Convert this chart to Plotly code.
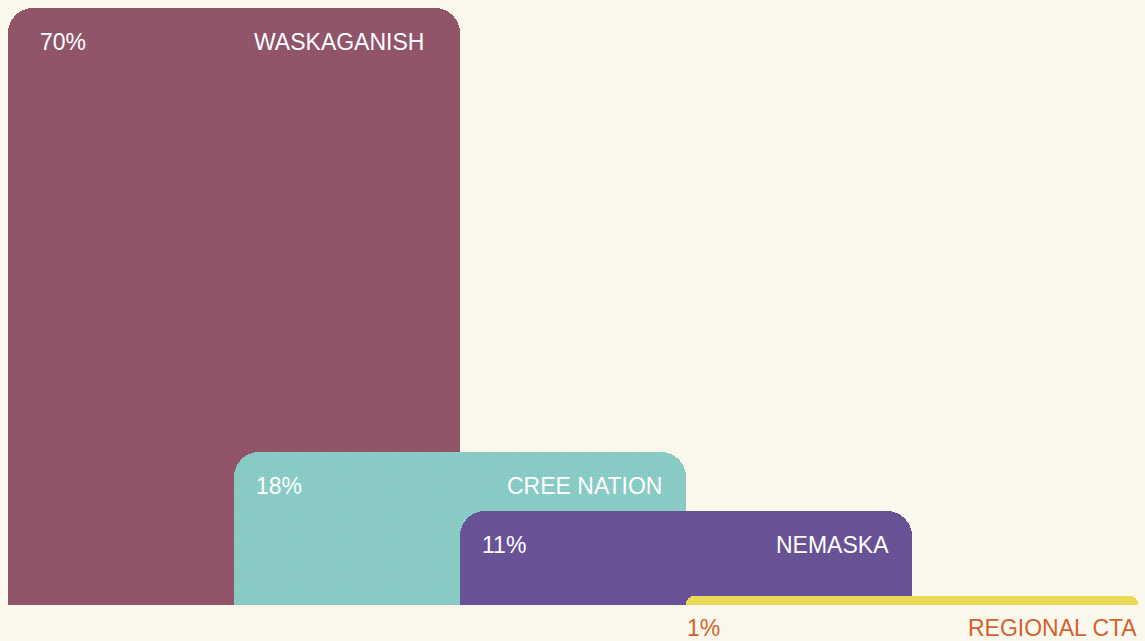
import plotly.graph_objects as go

categories = ["WASKAGANISH", "CREE NATION", "NEMASKA", "REGIONAL CTA"]
values = [70, 18, 11, 1]
labels = ["70%", "18%", "11%", "1%"]
colors = ["#93566B", "#8BCFC9", "#6A5499", "#F1DD57"]
text_colors = ["#FFFFFF", "#FFFFFF", "#FFFFFF", "#D4612E"]
positions = [0, 1, 2, 3]
left_inset = [30, 20, 20, -1]
right_inset = [-34, -22, -21, 1]

fig = go.Figure()
for i, (cat, v) in enumerate(zip(categories, values)):
    fig.add_trace(go.Bar(
        x=[positions[i]], y=[v], width=[2.0],
        marker=dict(color=colors[i], cornerradius=25, line=dict(width=0),
                    pattern=dict(shape=".", size=3, solidity=0.35,
                                 fgcolor="#000000", fgopacity=0.05,
                                 fillmode="overlay")),
        name=cat, hoverinfo="skip", showlegend=False,
    ))

annotations = []
for i, (cat, v) in enumerate(zip(categories, values)):
    inside = v > 5
    ys = -34 if inside else -23
    yv = v if inside else 0
    annotations.append(dict(x=positions[i] - 1, y=yv, xref="x", yref="y", text=labels[i],
                            showarrow=False, xanchor="left", yanchor="middle",
                            xshift=left_inset[i], yshift=ys,
                            font=dict(family="Liberation Sans, Arial", size=23, color=text_colors[i])))
    annotations.append(dict(x=positions[i] + 1, y=yv, xref="x", yref="y", text=cat,
                            showarrow=False, xanchor="right", yanchor="middle",
                            xshift=right_inset[i], yshift=ys,
                            font=dict(family="Liberation Sans, Arial", size=23, color=text_colors[i])))

fig.update_layout(
    width=1145, height=641,
    margin=dict(l=0, r=0, t=0, b=0),
    paper_bgcolor="#FAF7EC", plot_bgcolor="#FAF7EC",
    barmode="overlay", bargap=0,
    xaxis=dict(range=[-1.035, 4.031], visible=False, fixedrange=True),
    yaxis=dict(range=[-4.22, 70.94], visible=False, fixedrange=True),
    annotations=annotations,
)
fig.write_html("out.html")
